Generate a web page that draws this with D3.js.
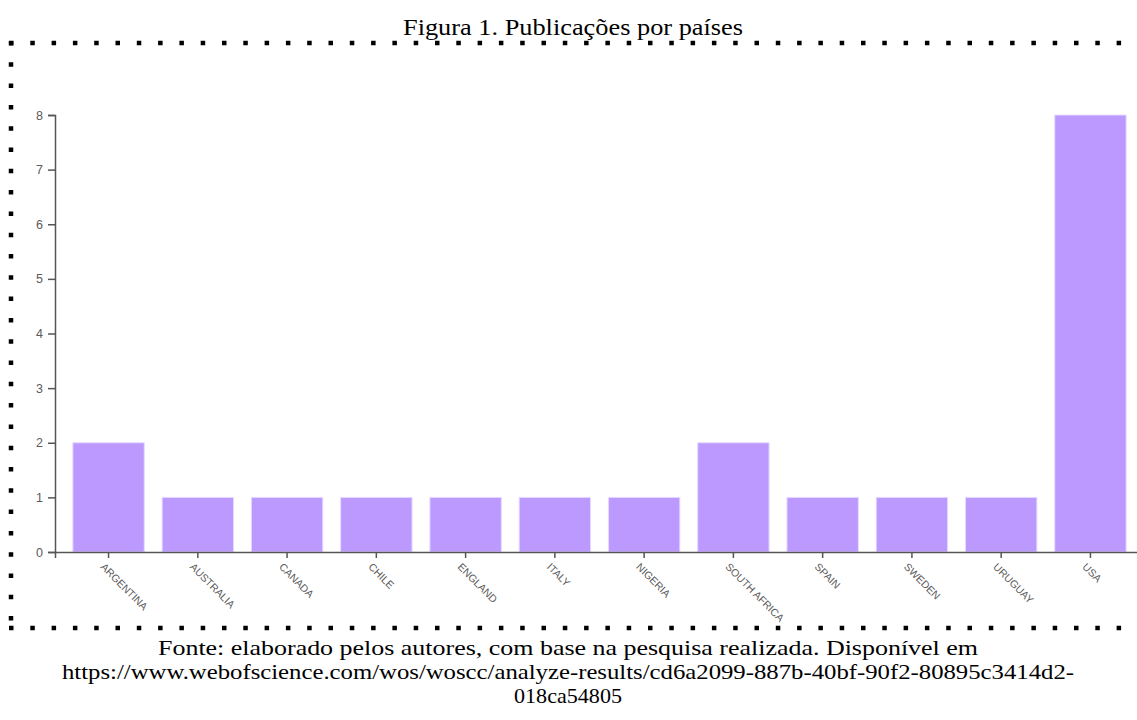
<!DOCTYPE html>
<html>
<head>
<meta charset="utf-8">
<script src="https://cdn.jsdelivr.net/npm/d3@7"></script>
<style>
  body { margin: 0; background: #fff; }
  .title, .caption { font-family: "Liberation Serif", "Times New Roman", serif; fill: #000; }
  .axis path, .axis line { stroke: #555; stroke-width: 1.5px; }
  .axis text { fill: #5a5a5a; font-family: "Liberation Sans", Arial, sans-serif; }
</style>
</head>
<body>
<div id="chart"></div>
<script>
// categories and values
const countries = ["ARGENTINA", "AUSTRALIA", "CANADA", "CHILE", "ENGLAND", "ITALY",
  "NIGERIA", "SOUTH AFRICA", "SPAIN", "SWEDEN", "URUGUAY", "USA"];
const publications = [2, 1, 1, 1, 1, 1, 1, 2, 1, 1, 1, 8];
const yTicks = [0, 1, 2, 3, 4, 5, 6, 7, 8];

const titleText = "Figura 1. Publicações por países";
const captionLines = [
  "Fonte: elaborado pelos autores, com base na pesquisa realizada. Disponível em",
  "https://www.webofscience.com/wos/woscc/analyze-results/cd6a2099-887b-40bf-90f2-80895c3414d2-",
  "018ca54805"
];
// measured widths of each caption line in the figure
const captionWidths = [820, 1012, 108];

const W = 1137, H = 720;
let margin = {top: 115, left: 55, bottom: 168, right: -7};

let svg = d3.select("#chart").append("svg")
    .attr("width", W)
    .attr("height", H);

svg.append("rect").attr("width", W).attr("height", H).attr("fill", "#fff");

// dotted frame (top, left, bottom)
let dots = svg.append("g")
    .attr("stroke", "#000")
    .attr("stroke-width", 4.5)
    .attr("stroke-dasharray", "4.5,16.8")
    .attr("fill", "none");
dots.append("line").attr("x1", 9).attr("x2", 1130).attr("y1", 43).attr("y2", 43);
dots.append("line").attr("x1", 11).attr("x2", 11).attr("y1", 41).attr("y2", 632);
dots.append("line").attr("x1", 9).attr("x2", 1130).attr("y1", 628).attr("y2", 628);

svg.append("text")
    .attr("class", "title")
    .attr("x", 573)
    .attr("y", 35)
    .attr("text-anchor", "middle")
    .attr("textLength", 340)
    .attr("lengthAdjust", "spacingAndGlyphs")
    .style("font-size", "23px")
    .text(titleText);

let x = d3.scaleBand()
    .domain(countries)
    .range([margin.left, W - margin.right])
    .paddingInner(0.2)
    .paddingOuter(0.2);

let y = d3.scaleLinear()
    .domain([0, 8])
    .range([H - margin.bottom, margin.top]);

let g = svg.append("g");

g.selectAll(".bar")
  .data(countries)
  .enter()
    .append("rect")
    .attr("class", "bar")
    .attr("x", d => x(d))
    .attr("y", (d, i) => y(publications[i]))
    .attr("width", x.bandwidth())
    .attr("height", (d, i) => y(0) - y(publications[i]))
    .attr("fill", "#bb99ff")
    .attr("stroke", "#e6dbff")
    .attr("stroke-width", 1);

// X axis
let xAxis = g.append("g")
    .attr("class", "axis")
    .attr("transform", "translate(0," + y(0) + ")")
    .call(d3.axisBottom(x).tickSizeOuter(6));
xAxis.selectAll("text")
    .style("font-size", "10.5px")
    .attr("text-anchor", "start")
    .attr("x", 0).attr("y", 0).attr("dy", "0.35em")
    .attr("transform", "translate(-6,13) rotate(45)");

// Y axis
g.append("g")
    .attr("class", "axis")
    .attr("transform", "translate(" + margin.left + ",0)")
    .call(d3.axisLeft(y).tickValues(yTicks).tickFormat(d3.format("d")).tickSize(7).tickPadding(5))
    .selectAll("text")
    .style("font-size", "12.5px");

// caption
svg.append("g")
    .selectAll("text")
    .data(captionLines)
    .enter()
      .append("text")
      .attr("class", "caption")
      .attr("x", 568)
      .attr("y", (d, i) => 655 + i * 24)
      .attr("text-anchor", "middle")
      .attr("textLength", (d, i) => captionWidths[i])
      .attr("lengthAdjust", "spacingAndGlyphs")
      .style("font-size", "21.5px")
      .text(d => d);
</script>
</body>
</html>
